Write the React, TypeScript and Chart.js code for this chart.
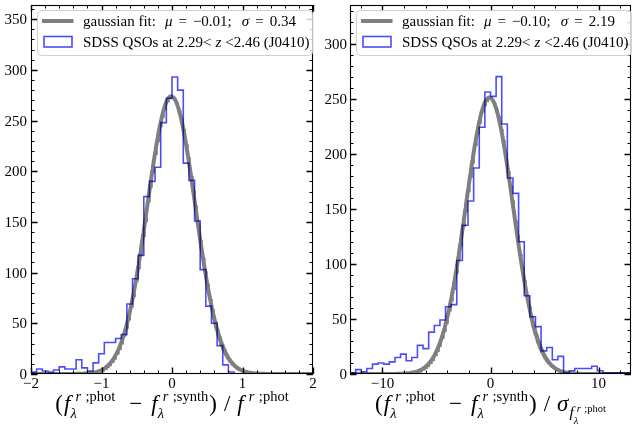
import React, { useEffect, useRef } from 'react';
import { Chart, registerables } from 'chart.js';

Chart.register(...registerables);

// ---------------- data ----------------
const LEFT_RANGE = [-2, 2];
const LEFT_COUNTS = [
  2, 5, 3, 2, 4, 7, 5, 5, 14, 6,
  3, 11, 20, 31, 31, 35, 39, 69, 94, 117,
  175, 190, 204, 248, 272, 293, 280, 208, 191, 151,
  103, 67, 50, 28, 9, 2, 0, 0, 0, 0,
  0, 0, 0, 0, 0, 0, 0, 0, 0, 0,
];
const LEFT_FIT = { mu: -0.01, sigma: 0.34, amp: 274 };
const LEFT_YMAX = 364;
const LEFT_XTICKS = [-2, -1, 0, 1, 2];
const LEFT_XMINOR = 0.2;
const LEFT_YTICKS = [0, 50, 100, 150, 200, 250, 300, 350];

const RIGHT_RANGE = [-13, 13];
const RIGHT_COUNTS = [
  1, 4, 2, 5, 9, 10, 9, 11, 15, 18,
  12, 15, 26, 23, 38, 44, 49, 61, 63, 103,
  135, 157, 187, 224, 256, 252, 270, 227, 178, 164,
  120, 71, 52, 43, 21, 24, 13, 16, 1, 3,
  5, 5, 5, 7, 3, 1, 1, 1, 1, 1,
];
const RIGHT_FIT = { mu: -0.1, sigma: 2.19, amp: 251 };
const RIGHT_YMAX = 335;
const RIGHT_XTICKS = [-10, 0, 10];
const RIGHT_XMINOR = 2;
const RIGHT_YTICKS = [0, 50, 100, 150, 200, 250, 300];

const Y_MINOR = 10;
const SAMPLE_LABEL = 'SDSS QSOs at 2.29<';
const SAMPLE_LABEL_TAIL = '<2.46 (J0410)';

// ---------------- text helpers ----------------
const FONT = '"Liberation Serif", "DejaVu Serif", serif';
type Run = { t: string; it?: boolean; sz: number; dy?: number };
type Item = Run | { stack: Item[][] } | { gap: number };

function drawItems(ctx: CanvasRenderingContext2D, items: Item[], x: number, y: number, draw: boolean): number {
  let cx = x;
  for (const it of items) {
    if ((it as any).stack) {
      let w = 0;
      for (const s of (it as any).stack as Item[][]) w = Math.max(w, drawItems(ctx, s, cx, y, draw));
      cx += w;
    } else if ((it as any).gap !== undefined) {
      cx += (it as any).gap;
    } else {
      const r = it as Run;
      ctx.font = `${r.it ? 'italic ' : ''}${r.sz}px ${FONT}`;
      if (draw) ctx.fillText(r.t, cx, y + (r.dy || 0));
      cx += ctx.measureText(r.t).width;
    }
  }
  return cx - x;
}

const B = 23;
const S = 14.5;
function fScript(sup: string): Item[] {
  return [
    { t: 'f', it: true, sz: B },
    {
      stack: [
        [{ gap: 0 }, { t: 'λ', it: true, sz: S, dy: 7 }],
        [{ gap: 5 }, { t: 'r', it: true, sz: S, dy: -10 }, { gap: 4.5 }, { t: ';' + sup, sz: S, dy: -10 }],
      ],
    },
  ];
}
const TITLE_COMMON: Item[] = [
  { t: '(', sz: B },
  { gap: 1 },
  ...fScript('phot'),
  { gap: 14 },
  { t: '−', sz: B },
  { gap: 9 },
  ...fScript('synth'),
  { gap: 1 },
  { t: ')', sz: B },
  { gap: 7 },
  { t: '/', sz: B },
  { gap: 7 },
];
const LEFT_TITLE: Item[] = [
  ...TITLE_COMMON,
  { t: 'f', it: true, sz: B },
  { gap: 5 },
  { t: 'r', it: true, sz: S, dy: -10 },
  { gap: 4.5 },
  { t: ';phot', sz: S, dy: -10 },
];
const RIGHT_TITLE: Item[] = [
  ...TITLE_COMMON,
  { t: 'σ', it: true, sz: B },
  { gap: 1 },
  { t: 'f', it: true, sz: 15.5, dy: 6 },
  {
    stack: [
      [{ t: 'λ', it: true, sz: 10.5, dy: 13 }],
      [{ gap: 3 }, { t: 'r', it: true, sz: 10.5, dy: 1 }, { gap: 3.5 }, { t: ';phot', sz: 10.5, dy: 1 }],
    ],
  },
];

const fmt = (v: number) => (v < 0 ? '−' : '') + Math.abs(v).toFixed(2);

// ---------------- chart ----------------
type Panel = {
  range: number[];
  counts: number[];
  fit: { mu: number; sigma: number; amp: number };
  ymax: number;
  xticks: number[];
  xminor: number;
  yticks: number[];
  title: Item[];
  padLeft: number;
  padRight: number;
  labelGap: number;
};

function buildChart(canvas: HTMLCanvasElement, p: Panel) {
  const n = p.counts.length;
  const bw = (p.range[1] - p.range[0]) / n;
  // step outline: vertical at left edge, horizontal across each bin
  const hist: { x: number; y: number }[] = [{ x: p.range[0], y: 0 }];
  p.counts.forEach((c, i) => hist.push({ x: p.range[0] + (i + 1) * bw, y: c }));
  hist.push({ x: p.range[1], y: 0 });

  const fit: { x: number; y: number }[] = [];
  const NS = 400;
  for (let i = 0; i <= NS; i++) {
    const x = p.range[0] + ((p.range[1] - p.range[0]) * i) / NS;
    fit.push({ x, y: p.fit.amp * Math.exp(-((x - p.fit.mu) ** 2) / (2 * p.fit.sigma ** 2)) });
  }

  const decor = {
    id: 'decor',
    afterDatasetsDraw(chart: any) {
      const { ctx, chartArea: a, scales } = chart;
      const xs = scales.x;
      const ys = scales.y;
      ctx.save();
      ctx.strokeStyle = '#000';
      // minor ticks
      ctx.lineWidth = 1;
      ctx.beginPath();
      const nxm = Math.round((p.range[1] - p.range[0]) / p.xminor);
      const x0m = Math.ceil(p.range[0] / p.xminor - 1e-9) * p.xminor;
      for (let i = 0; i <= nxm + 1; i++) {
        const v = x0m + i * p.xminor;
        if (v > p.range[1] + 1e-9) break;
        const px = Math.round(xs.getPixelForValue(v)) + 0.5;
        ctx.moveTo(px, a.bottom); ctx.lineTo(px, a.bottom - 3.5);
        ctx.moveTo(px, a.top); ctx.lineTo(px, a.top + 3.5);
      }
      for (let v = 0; v <= p.ymax; v += Y_MINOR) {
        const py = Math.round(ys.getPixelForValue(v)) + 0.5;
        ctx.moveTo(a.left, py); ctx.lineTo(a.left + 3.5, py);
        ctx.moveTo(a.right, py); ctx.lineTo(a.right - 3.5, py);
      }
      ctx.stroke();
      // major ticks
      ctx.lineWidth = 1.4;
      ctx.beginPath();
      for (const v of p.xticks) {
        const px = Math.round(xs.getPixelForValue(v)) + 0.5;
        ctx.moveTo(px, a.bottom); ctx.lineTo(px, a.bottom - 6.5);
        ctx.moveTo(px, a.top); ctx.lineTo(px, a.top + 6.5);
      }
      for (const v of p.yticks) {
        const py = Math.round(ys.getPixelForValue(v)) + 0.5;
        ctx.moveTo(a.left, py); ctx.lineTo(a.left + 6.5, py);
        ctx.moveTo(a.right, py); ctx.lineTo(a.right - 6.5, py);
      }
      ctx.stroke();
      // frame
      ctx.lineWidth = 1.1;
      ctx.strokeRect(Math.round(a.left) + 0.5, Math.round(a.top) + 0.5, Math.round(a.width) - 1, Math.round(a.height) - 1);
      // tick labels
      ctx.fillStyle = '#000';
      ctx.font = `15px ${FONT}`;
      ctx.textBaseline = 'alphabetic';
      ctx.textAlign = 'center';
      for (const v of p.xticks) {
        const lab = (v < 0 ? '−' : '') + Math.abs(v);
        ctx.fillText(lab, xs.getPixelForValue(v), a.bottom + 14);
      }
      ctx.textAlign = 'right';
      for (const v of p.yticks) {
        ctx.fillText(String(v), a.left - p.labelGap, ys.getPixelForValue(v) + 5);
      }
      // axis title
      ctx.textAlign = 'left';
      const tw = drawItems(ctx, p.title, 0, 0, false);
      drawItems(ctx, p.title, (a.left + a.right) / 2 - tw / 2, 411, true);

      // legend
      const L = 15;
      const row1: Item[] = [
        { t: 'gaussian fit:', sz: L },
        { gap: 9 },
        { t: 'μ', it: true, sz: L },
        { gap: 6 },
        { t: '=', sz: L },
        { gap: 6 },
        { t: fmt(p.fit.mu) + ';', sz: L },
        { gap: 10 },
        { t: 'σ', it: true, sz: L },
        { gap: 6 },
        { t: '=', sz: L },
        { gap: 6 },
        { t: fmt(p.fit.sigma), sz: L },
      ];
      const row2: Item[] = [
        { t: SAMPLE_LABEL, sz: L },
        { gap: 4 },
        { t: 'z', it: true, sz: L },
        { gap: 4 },
        { t: SAMPLE_LABEL_TAIL, sz: L },
      ];
      const w1 = drawItems(ctx, row1, 0, 0, false);
      const w2 = drawItems(ctx, row2, 0, 0, false);
      const bx = a.left + 6.5;
      const by = a.top + 5.5;
      const bwid = 45.5 + Math.max(w1, w2) + 3;
      const bh = 45;
      ctx.beginPath();
      ctx.roundRect(bx, by, bwid, bh, 4);
      ctx.fillStyle = 'rgba(255,255,255,0.8)';
      ctx.fill();
      ctx.strokeStyle = 'rgba(204,204,204,0.9)';
      ctx.lineWidth = 1;
      ctx.stroke();
      // handles
      const r1 = by + 10.5;
      const r2 = by + 31;
      ctx.beginPath();
      ctx.strokeStyle = 'rgba(0,0,0,0.5)';
      ctx.lineWidth = 4;
      ctx.moveTo(bx + 4.5, r1); ctx.lineTo(bx + 36, r1);
      ctx.stroke();
      ctx.strokeStyle = 'rgba(0,0,255,0.7)';
      ctx.lineWidth = 1.6;
      ctx.strokeRect(bx + 6.5, r2 - 5, 28, 10.5);
      ctx.fillStyle = '#000';
      drawItems(ctx, row1, bx + 45.5, r1 + 5, true);
      drawItems(ctx, row2, bx + 45.5, r2 + 5, true);
      ctx.restore();
    },
  };

  return new Chart(canvas, {
    type: 'line',
    data: {
      datasets: [
        {
          label: 'gaussian fit',
          data: fit,
          borderColor: 'rgba(0,0,0,0.5)',
          borderWidth: 4,
          pointRadius: 0,
          tension: 0,
          order: 0,
          clip: 0,
        } as any,
        {
          label: 'SDSS QSOs',
          data: hist,
          borderColor: 'rgba(0,0,255,0.7)',
          borderWidth: 1.6,
          pointRadius: 0,
          stepped: 'after',
          order: 1,
          clip: 0,
        } as any,
      ],
    },
    options: {
      animation: false,
      responsive: false,
      devicePixelRatio: 1,
      events: [],
      layout: { padding: { left: p.padLeft, right: p.padRight, top: 5, bottom: 60 } },
      plugins: { legend: { display: false }, tooltip: { enabled: false } },
      scales: {
        x: { type: 'linear', min: p.range[0], max: p.range[1], display: false },
        y: { type: 'linear', min: 0, max: p.ymax, display: false },
      },
    },
    plugins: [decor],
  });
}

export default function App() {
  const leftRef = useRef<HTMLCanvasElement>(null);
  const rightRef = useRef<HTMLCanvasElement>(null);
  useEffect(() => {
    document.body.style.margin = '0';
    const c1 = buildChart(leftRef.current!, {
      range: LEFT_RANGE, counts: LEFT_COUNTS, fit: LEFT_FIT, ymax: LEFT_YMAX,
      xticks: LEFT_XTICKS, xminor: LEFT_XMINOR, yticks: LEFT_YTICKS, title: LEFT_TITLE,
      padLeft: 31, padRight: 3, labelGap: 4,
    });
    const c2 = buildChart(rightRef.current!, {
      range: RIGHT_RANGE, counts: RIGHT_COUNTS, fit: RIGHT_FIT, ymax: RIGHT_YMAX,
      xticks: RIGHT_XTICKS, xminor: RIGHT_XMINOR, yticks: RIGHT_YTICKS, title: RIGHT_TITLE,
      padLeft: 34, padRight: 1, labelGap: 3,
    });
    return () => { c1.destroy(); c2.destroy(); };
  }, []);
  return (
    <div style={{ position: 'relative', width: 632, height: 434, background: '#fff' }}>
      <canvas ref={leftRef} width={316} height={434} style={{ position: 'absolute', left: 0, top: 0 }} />
      <canvas ref={rightRef} width={316} height={434} style={{ position: 'absolute', left: 316, top: 0 }} />
    </div>
  );
}
